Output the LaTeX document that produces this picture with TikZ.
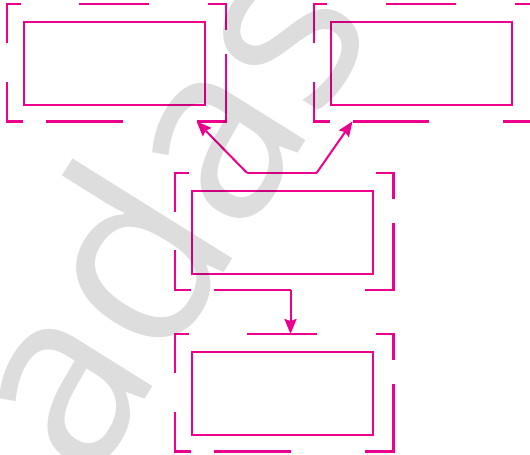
\documentclass[tikz,border=0pt]{standalone}
\usepackage{fontspec}
\newfontfamily\markfont{Open Sans}
\usetikzlibrary{arrows.meta}
\definecolor{pinkline}{RGB}{236,0,140}
\begin{document}
\begin{tikzpicture}[x=1pt, y=-1pt,
    box/.style={draw=pinkline, line width=2pt, minimum width=181pt, minimum height=83pt, inner sep=0pt},
    frame/.style={draw=pinkline, line width=2.2pt},
    link/.style={draw=pinkline, line width=2pt, -{Stealth[length=15pt, width=12pt, inset=2pt]}}]
    \clip (0,0) rectangle (530,455);
    \node[box] (tl) at (114.9,63.7) {};
    \node[box] (tr) at (421.5,63.7) {};
    \node[box] (mid) at (282.8,232.5) {};
    \node[box] (bot) at (282.8,393.8) {};
    % broken frame round every box
    \foreach \n in {tl,tr,mid,bot} {
        \begin{scope}[shift={(\n.center)}]
            \draw[frame] (-107.8,-20.5) -- (-107.8,-59.8) -- (-94.3,-59.8);
            \draw[frame] (-36,-59.8) -- (34,-59.8);
            \draw[frame] (93.3,-59.8) -- (110.7,-59.8) -- (110.7,-33.8);
            \draw[frame] (110.7,-9.5) -- (110.7,57.7) -- (81.7,57.7);
            \draw[frame] (7.7,57.7) -- (-69,57.7);
            \draw[frame] (-91.7,57.7) -- (-107.8,57.7) -- (-107.8,17.9);
            \coordinate (\n-ta) at (-36,-59.8);
            \coordinate (\n-tb) at (34,-59.8);
            \coordinate (\n-bb) at (-69,57.7);
            \coordinate (\n-br) at (7.7,57.7);
            \coordinate (\n-bc) at (81.7,57.7);
        \end{scope}
    }
    \draw[link] (mid-ta) -- (tl-bc);
    \draw[link] (mid-tb) -- (tr-bb);
    \draw[link] (mid-br) -- (mid-br |- bot-ta);
    % watermark
    \node[text=black, opacity=0.135, rotate=58, anchor=base west, inner sep=0pt, font=\markfont\fontsize{248}{248}\selectfont] (mark) at (90,487) {adas};
\end{tikzpicture}
\end{document}
